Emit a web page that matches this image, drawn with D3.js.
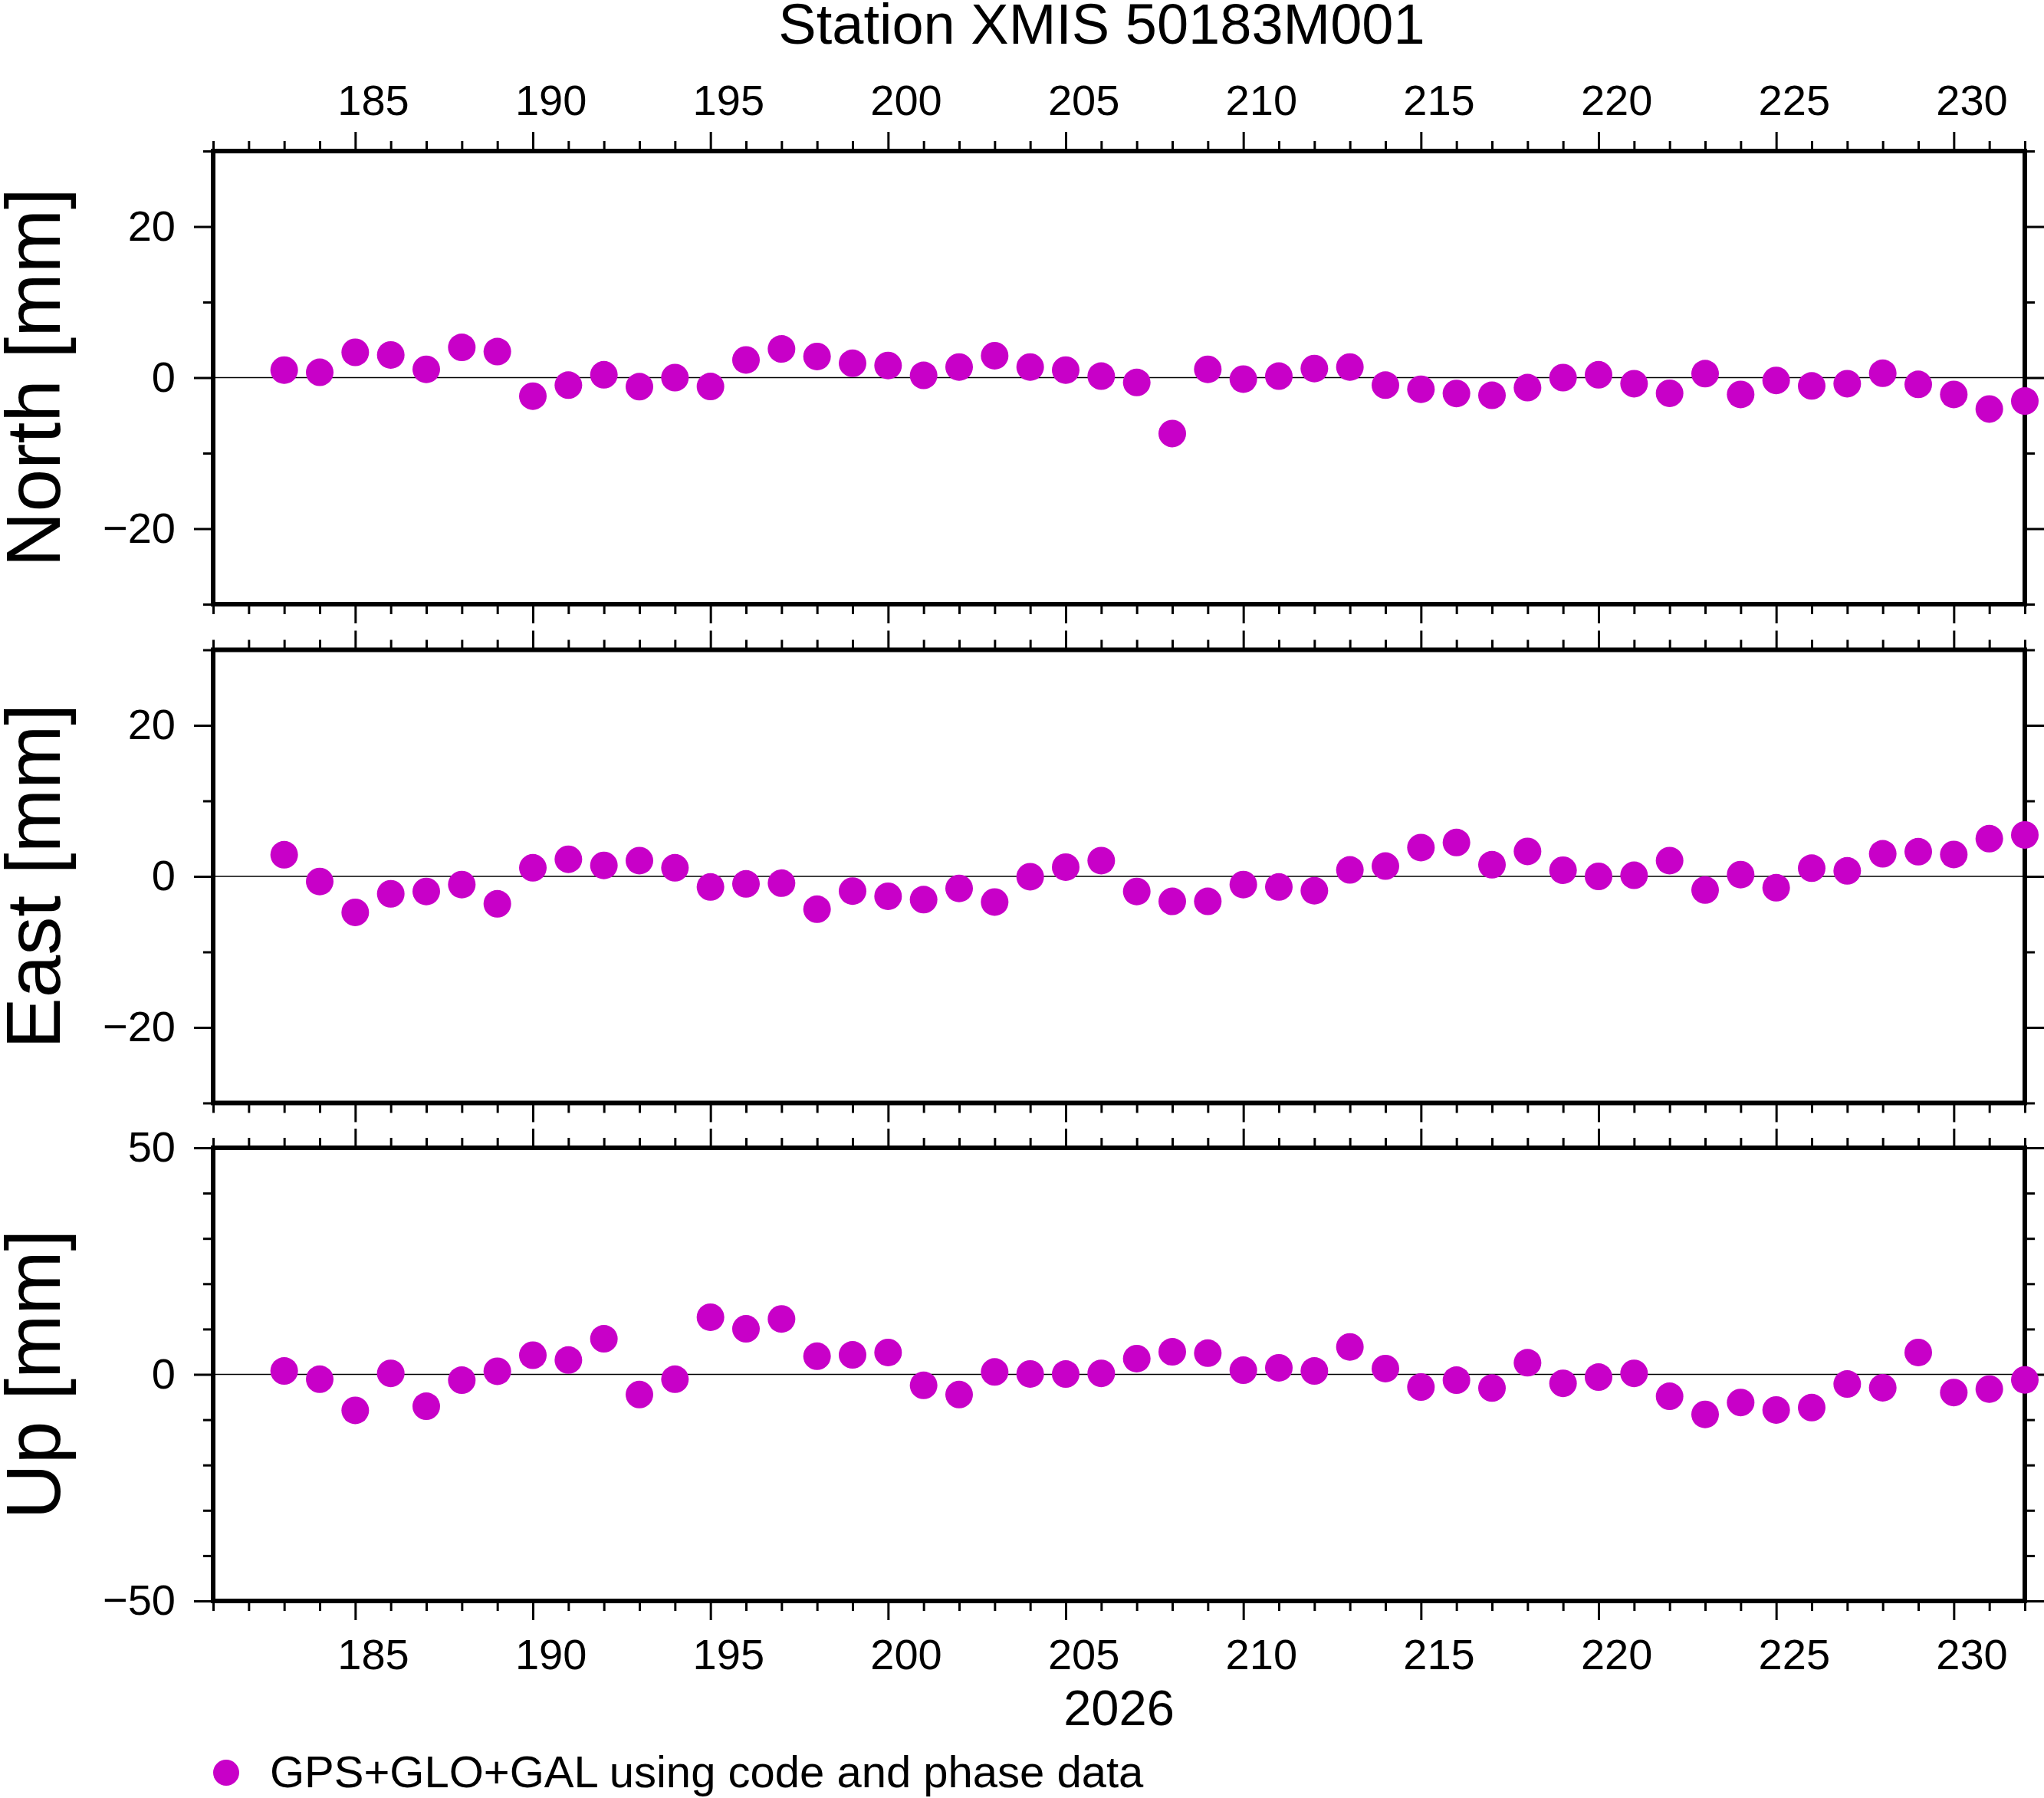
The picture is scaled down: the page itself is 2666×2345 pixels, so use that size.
<!DOCTYPE html>
<html>
<head>
<meta charset="utf-8">
<script src="https://cdn.jsdelivr.net/npm/d3@7"></script>
<style>
html, body { margin: 0; padding: 0; background: #fff; }
svg { display: block; }
text { font-family: "Liberation Sans", Arial, Helvetica, sans-serif; fill: #000; }
</style>
</head>
<body>
<script>
// ---------------- data ----------------
const title = "Station XMIS 50183M001";
const yearLabel = "2026";
const legendLabel = "GPS+GLO+GAL using code and phase data";
const days = d3.range(183, 233); // day of year 183..232
const north = [1.0, 0.7, 3.35, 3.0, 1.1, 4.0, 3.45, -2.45, -1.0, 0.37,
  -1.2, 0.0, -1.17, 2.34, 3.8, 2.8, 1.9, 1.6, 0.3, 1.4,
  2.9, 1.4, 1.0, 0.2, -0.64, -7.4, 1.1, -0.2, 0.2, 1.2,
  1.4, -1.0, -1.54, -2.1, -2.34, -1.33, 0.0, 0.37, -0.8, -2.07,
  0.53, -2.23, -0.37, -1.1, -0.8, 0.58, -0.9, -2.23, -4.15, -3.1];
const east = [2.86, -0.68, -4.76, -2.31, -2.0, -1.09, -3.63, 1.13, 2.27, 1.45,
  2.09, 1.13, -1.4, -1.0, -0.9, -4.35, -1.95, -2.63, -3.08, -1.59,
  -3.4, -0.05, 1.22, 2.09, -2.0, -3.31, -3.31, -1.09, -1.4, -1.9,
  0.86, 1.36, 3.81, 4.49, 1.54, 3.31, 0.82, 0.0, 0.14, 2.09,
  -1.81, 0.23, -1.5, 1.09, 0.73, 2.99, 3.27, 2.9, 4.99, 5.49];
const up = [0.76, -1.06, -7.94, 0.23, -7.03, -1.28, 0.68, 4.23, 3.17, 7.86,
  -4.46, -1.06, 12.62, 10.05, 12.24, 4.0, 4.31, 4.84, -2.42, -4.46,
  0.53, 0.1, 0.08, 0.23, 3.48, 4.99, 4.69, 0.91, 1.44, 0.76,
  6.05, 1.28, -2.8, -1.28, -3.02, 2.57, -1.97, -0.6, 0.23, -4.84,
  -8.84, -6.2, -7.86, -7.33, -2.12, -2.95, 4.84, -4.0, -3.25, -1.21];
const xDomain = [181, 232];
const xMajor = [185, 190, 195, 200, 205, 210, 215, 220, 225, 230];
const panelNames = ["North [mm]", "East [mm]", "Up [mm]"];
const panelDomains = [[-30, 30], [-30, 30], [-50, 50]];
const panelMajor = [[-20, 0, 20], [-20, 0, 20], [-50, 0, 50]];
const panelMinor = [[-30, -10, 10, 30], [-30, -10, 10, 30], [-40, -30, -20, -10, 10, 20, 30, 40]];
const panelValues = [north, east, up];

// ---------------- layout ----------------
const W = 2666, H = 2345;
const left = 278, right = 2641;
const panelTops = [197, 847.5, 1497];
const panelH = 591;
const color = "#c800c8";
const frameW = 6, tickW = 3, majorLen = 25, minorLen = 13;
const tickFont = 56;

const svg = d3.select("body").append("svg").attr("width", W).attr("height", H);

const x = d3.scaleLinear().domain(xDomain).range([left, right]);
const xMinor = d3.range(xDomain[0], xDomain[1] + 1).filter(d => !xMajor.includes(d));

// title
svg.append("text").attr("x", 1437).attr("y", 57).attr("text-anchor", "middle")
  .attr("font-size", 74).text(title);

function styleAxis(g, showText) {
  g.select(".domain").remove();
  g.selectAll(".tick line").attr("stroke", "#000").attr("stroke-width", tickW);
  g.selectAll(".tick text").attr("font-size", tickFont).attr("fill", "#000")
    .style("font-family", '"Liberation Sans", Arial, Helvetica, sans-serif');
  if (!showText) g.selectAll(".tick text").remove();
}

panelNames.forEach((name, i) => {
  const top = panelTops[i], bottom = top + panelH;
  const y = d3.scaleLinear().domain(panelDomains[i]).range([bottom, top]);
  const g = svg.append("g");

  // zero line
  g.append("line").attr("x1", left).attr("x2", right).attr("y1", y(0)).attr("y2", y(0))
    .attr("stroke", "#000").attr("stroke-width", 1.3);

  // x ticks top & bottom
  [[d3.axisTop, top], [d3.axisBottom, bottom]].forEach(([ax, pos]) => {
    g.append("g").attr("transform", `translate(0,${pos})`)
      .call(ax(x).tickValues(xMajor).tickSize(majorLen).tickFormat(""))
      .call(a => styleAxis(a, false));
    g.append("g").attr("transform", `translate(0,${pos})`)
      .call(ax(x).tickValues(xMinor).tickSize(minorLen).tickFormat(""))
      .call(a => styleAxis(a, false));
  });

  // y ticks left & right
  g.append("g").attr("transform", `translate(${left},0)`)
    .call(d3.axisLeft(y).tickValues(panelMajor[i]).tickSize(majorLen).tickPadding(24).tickFormat(d3.format("d")))
    .call(a => styleAxis(a, true));
  g.append("g").attr("transform", `translate(${left},0)`)
    .call(d3.axisLeft(y).tickValues(panelMinor[i]).tickSize(minorLen).tickFormat(""))
    .call(a => styleAxis(a, false));
  g.append("g").attr("transform", `translate(${right},0)`)
    .call(d3.axisRight(y).tickValues(panelMajor[i]).tickSize(majorLen).tickFormat(""))
    .call(a => styleAxis(a, false));
  g.append("g").attr("transform", `translate(${right},0)`)
    .call(d3.axisRight(y).tickValues(panelMinor[i]).tickSize(minorLen).tickFormat(""))
    .call(a => styleAxis(a, false));

  // frame
  g.append("rect").attr("x", left).attr("y", top).attr("width", right - left).attr("height", panelH)
    .attr("fill", "none").attr("stroke", "#000").attr("stroke-width", frameW);

  // axis title
  g.append("text").attr("transform", `translate(78,${(top + bottom) / 2}) rotate(-90)`)
    .attr("text-anchor", "middle").attr("font-size", 100).text(name);

  // points
  g.selectAll("circle").data(days.map((d, k) => [d, panelValues[i][k]])).join("circle")
    .attr("cx", d => x(d[0])).attr("cy", d => y(d[1])).attr("r", 18).attr("fill", color);
});

// x labels (centred in the day interval)
const labelDays = xMajor.map(d => d + 0.5);
const topAx = svg.append("g").attr("transform", `translate(0,${panelTops[0]})`)
  .call(d3.axisTop(x).tickValues(labelDays).tickSize(0).tickPadding(47).tickFormat(d => Math.floor(d)));
styleAxis(topAx, true);
topAx.selectAll(".tick line").remove();
const botY = panelTops[2] + panelH;
const botAx = svg.append("g").attr("transform", `translate(0,${botY})`)
  .call(d3.axisBottom(x).tickValues(labelDays).tickSize(0).tickPadding(49).tickFormat(d => Math.floor(d)));
styleAxis(botAx, true);
botAx.selectAll(".tick line").remove();

svg.append("text").attr("x", (left + right) / 2).attr("y", 2250).attr("text-anchor", "middle")
  .attr("font-size", 65).text(yearLabel);

// legend
svg.append("circle").attr("cx", 295).attr("cy", 2312).attr("r", 17).attr("fill", color);
svg.append("text").attr("x", 352).attr("y", 2331).attr("font-size", 58).text(legendLabel);
</script>
</body>
</html>
